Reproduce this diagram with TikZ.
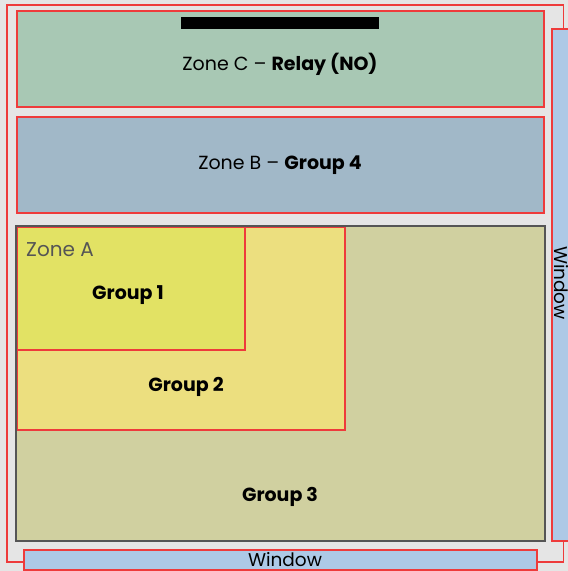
\documentclass[tikz,border=0pt]{standalone}
\usepackage{fontspec}
\setmainfont{Poppins}
\definecolor{bgc}{HTML}{E5E5E5}
\definecolor{redl}{HTML}{EE3B3B}
\definecolor{zc}{HTML}{A8C8B4}
\definecolor{zb}{HTML}{A1B8C8}
\definecolor{za}{HTML}{D0D0A0}
\definecolor{gtwo}{HTML}{ECDF7F}
\definecolor{gone}{HTML}{E2E264}
\definecolor{win}{HTML}{ADC9E6}
\definecolor{zaline}{HTML}{555555}
\tikzset{
  box/.style={draw=redl, line width=1.1pt, inner sep=0pt, outer sep=0pt, anchor=north west},
  lbl/.style={inner sep=0pt, font=\fontsize{19}{22}\selectfont},
  winlbl/.style={inner sep=0pt, font=\fontsize{18.5}{22}\selectfont},
}
\begin{document}
\begin{tikzpicture}[x=1pt,y=-1pt]
\useasboundingbox (0,0) rectangle (568,571);
\fill[bgc] (0,0) rectangle (568,571);
% outer red outline
\draw[redl, line width=1.2pt] (7,5) rectangle (563.5,562);
% zones
\node[box, fill=zc, minimum width=527pt, minimum height=96pt] (zoneC) at (17,11) {};
\fill[black] (181,17) rectangle (379,29);
\node[lbl] (zctext) at (280,64) {Zone C -- \textbf{Relay (NO)}};
\node[box, fill=zb, minimum width=527pt, minimum height=96pt] (zoneB) at (17,117) {};
\node[lbl] (zbtext) at (280,165) {Zone B -- \textbf{Group 4}};
\node[fill=za, inner sep=0pt, outer sep=0pt, anchor=north west, minimum width=529pt, minimum height=315pt] (zoneA) at (16,226) {};
\node[box, fill=gtwo, minimum width=328pt, minimum height=203pt] (group2) at (17,227) {};
\node[box, fill=gone, minimum width=228pt, minimum height=123pt] (group1) at (17,227) {};
\draw[zaline, line width=2.8pt] (zoneA.north west) rectangle (zoneA.south east);
\node[lbl, text=zaline, anchor=west, font=\fontsize{20}{24}\selectfont] (zatext) at (26,250) {Zone A};
\node[lbl] (g1text) at (128,295) {\textbf{Group 1}};
\node[lbl] (g2text) at (186,387) {\textbf{Group 2}};
\node[lbl] (g3text) at (280,497) {\textbf{Group 3}};
% windows
\node[box, fill=win, minimum width=20pt, minimum height=512pt] (winR) at (552,29) {};
\node[winlbl, rotate=-90] (winRtext) at (561,283) {Window};
\node[box, fill=win, minimum width=513pt, minimum height=20pt] (winB) at (24,550) {};
\node[winlbl] (winBtext) at (285,560) {Window};
\end{tikzpicture}
\end{document}
